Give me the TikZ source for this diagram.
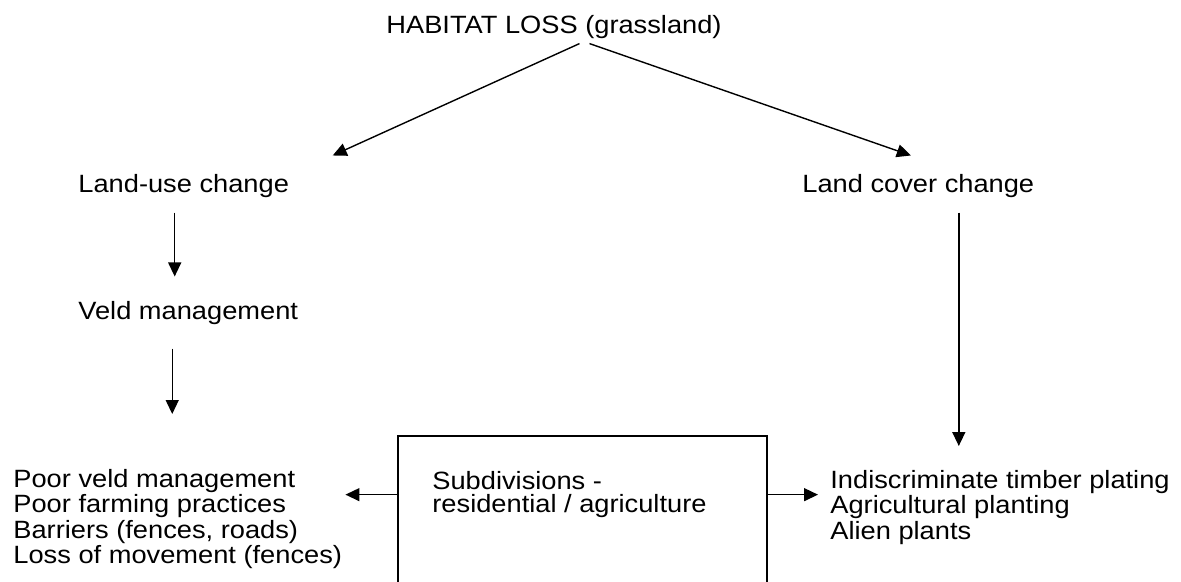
\documentclass[tikz,border=0pt]{standalone}
\usepackage{fontspec}
\setmainfont{Liberation Sans}[FakeStretch=1.09]
\usetikzlibrary{positioning,calc,arrows.meta,fit}
\tikzset{font=\fontsize{12.5}{11.6}\selectfont}

\begin{document}
\begin{tikzpicture}[x=0.5pt, y=-0.5pt]
	\useasboundingbox (0,0) rectangle (1181,582);
	\clip (0,0) rectangle (1181,582);
	\begin{scope}
		\tikzstyle{every node}=[align=left, inner sep=0pt]
		\tikzstyle{arr}=[-{Triangle[length=7pt, width=6.5pt]}, line width=0.7pt]
		\node[anchor=base west] (hab) at (386, 34) {HABITAT LOSS (grassland)};
		\node[anchor=base west] (landuse) at (78, 193) {Land-use change};
		\node[anchor=base west] (landcover) at (802, 193) {Land cover change};
		\node[anchor=base west] (veld) at (78, 320) {Veld management};
		\node[anchor=north west] (poor) at (13, 469) {Poor veld management\\Poor farming practices\\Barriers (fences, roads)\\Loss of movement (fences)};
		\node[draw, line width=0.7pt, fit={(398,436) (767,660)}] (box) {};
		\node[anchor=north west] (sub) at (432, 471) {Subdivisions -\\residential / agriculture};
		\node[anchor=north west] (indis) at (830, 470) {Indiscriminate timber plating\\Agricultural planting\\Alien plants};

		\draw[arr] ([xshift=12.75pt, yshift=-2pt]hab.south) -- ([xshift=74.5pt, yshift=9.5pt]landuse.north);
		\draw[arr] ([xshift=17.75pt, yshift=-2pt]hab.south) -- ([xshift=-3.75pt, yshift=9.5pt]landcover.north);
		\draw[arr, shorten <=7pt, shorten >=12.5pt] ([xshift=-4.5pt]landuse.south) -- ([xshift=-4.5pt]landuse.south |- veld.north);
		\draw[arr, shorten <=11.5pt, shorten >=27.5pt] ([xshift=-8pt]veld.south) -- ([xshift=-8pt]veld.south |- poor.north);
		\draw[arr, shorten <=7pt, shorten >=12pt] ([xshift=20.25pt]landcover.south) -- ([xshift=20.25pt]landcover.south |- indis.north);
		\draw[arr, shorten >=1.5pt] (sub -| box.west) -- (sub -| poor.east);
		\draw[arr, shorten >=6pt] (sub -| box.east) -- (sub -| indis.west);
	\end{scope}
\end{tikzpicture}
\end{document}
